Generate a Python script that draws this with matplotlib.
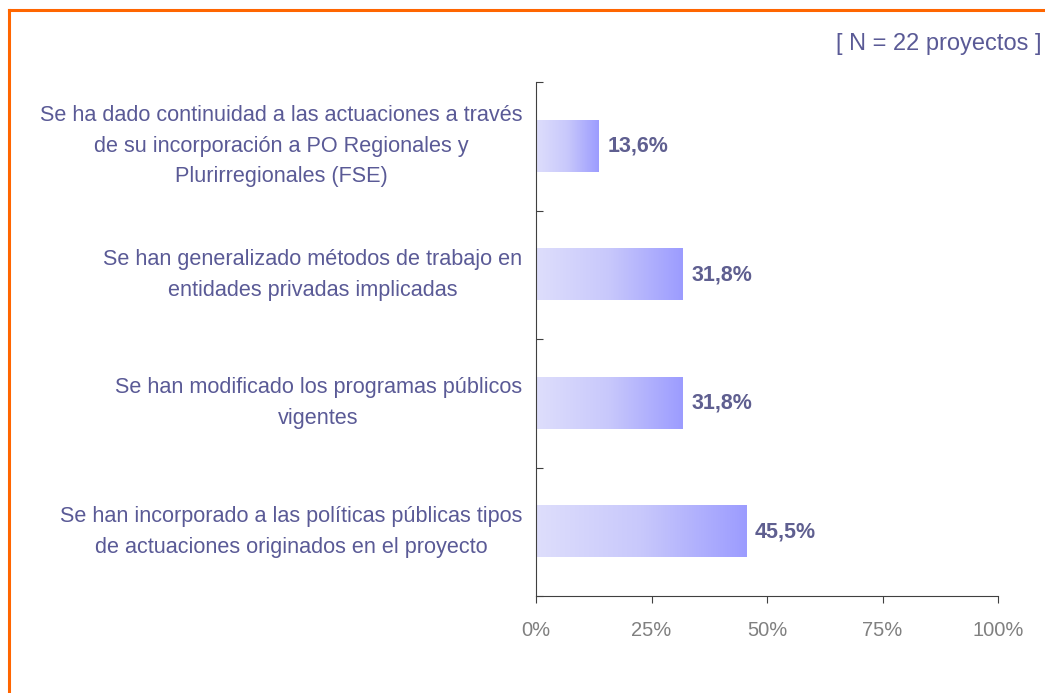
import numpy as np
import matplotlib.pyplot as plt
from matplotlib.colors import LinearSegmentedColormap
from matplotlib.lines import Line2D

plt.rcParams['font.family'] = ['Liberation Sans', 'DejaVu Sans']

categories = [
    "Se ha dado continuidad a las actuaciones a través\nde su incorporación a PO Regionales y\nPlurirregionales (FSE)",
    "Se han generalizado métodos de trabajo en\nentidades privadas implicadas",
    "Se han modificado los programas públicos\nvigentes",
    "Se han incorporado a las políticas públicas tipos\nde actuaciones originados en el proyecto",
]
values = [13.6, 31.8, 31.8, 45.5]
value_labels = ["13,6%", "31,8%", "31,8%", "45,5%"]
xticks = [0, 25, 50, 75, 100]
xtick_labels = ["0%", "25%", "50%", "75%", "100%"]

text_col = "#5a5a96"
cmap = LinearSegmentedColormap.from_list("bar", ["#dedefc", "#c8c8fb", "#9c9cff"])

fig = plt.figure(figsize=(10.45, 6.93), dpi=100)
ax = fig.add_axes([536/1045, 1 - 596/693, (998-536)/1045, (596-82)/693])

n = len(categories)
ypos = np.arange(n)[::-1]  # first category at top
bar_h = 0.4
grad = np.linspace(0, 1, 256).reshape(1, -1)
for y, v, lab in zip(ypos, values, value_labels):
    ax.imshow(grad, cmap=cmap, aspect='auto', interpolation='bicubic',
              extent=[0, v, y - bar_h/2, y + bar_h/2], zorder=2)
    ax.text(v + 1.9, y, lab, va='center', ha='left', fontsize=15.5,
            fontweight='bold', color="#5f5f90")

ax.set_xlim(0, 100)
ax.set_ylim(-0.5, n - 0.5)
ax.set_xticks(xticks)
ax.set_xticklabels(xtick_labels, fontsize=14.5, color="#808080")
ax.set_yticks(np.arange(-0.5, n, 1))
ax.set_yticklabels([])
ax.tick_params(axis='y', direction='in', length=5, color='#404040')
ax.tick_params(axis='x', direction='out', length=5, color='#404040', pad=13)
for s in ['top', 'right']:
    ax.spines[s].set_visible(False)
ax.spines['left'].set_color('#404040')
ax.spines['bottom'].set_color('#404040')
ax.set_facecolor('none')

for y, cat in zip(ypos, categories):
    ax.text(-3.0, y, cat, ha='right', va='center', multialignment='center',
            fontsize=15.6, color=text_col, linespacing=1.6,
            transform=ax.transData, clip_on=False)

fig.text(1042/1045, 1 - 44/693, "[ N = 22 proyectos ]", ha='right', va='center',
         fontsize=17, color=text_col)

# orange frame (top and left)
fig.add_artist(Line2D([9/1045, 1], [1 - 10/693, 1 - 10/693], color='#ff6600',
                      lw=2.2, transform=fig.transFigure))
fig.add_artist(Line2D([9/1045, 9/1045], [0, 1 - 10/693], color='#ff6600',
                      lw=2.2, transform=fig.transFigure))

fig.savefig("out.png", dpi=100)
